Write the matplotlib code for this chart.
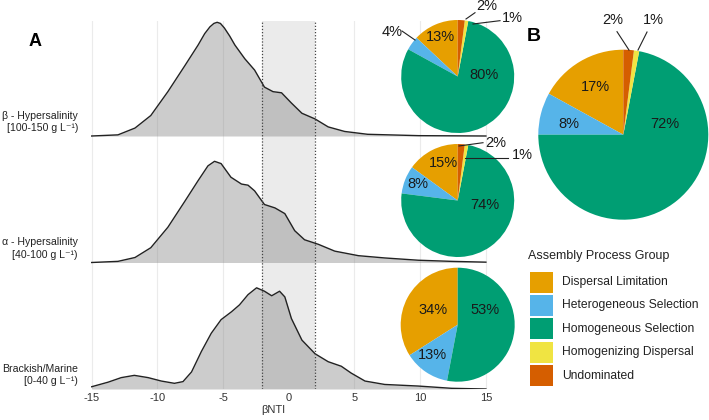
import matplotlib
matplotlib.use('Agg')
import matplotlib.pyplot as plt
from matplotlib.patches import Rectangle

plt.rcParams['font.family'] = ['Liberation Sans', 'DejaVu Sans']

# Dichtekurven (βNTI), Höhe relativ zum höchsten Gipfel
beta_x = [-15, -13, -11.7, -10.5, -9.2, -7.9, -6.9, -6.4, -6.0, -5.7, -5.45, -5.2, -4.9, -4.5,
          -4.1, -3.35, -2.6, -1.85, -1.2, -0.55, 0.2, 1.0, 2.0, 3.0, 4.25, 6.0, 9.9, 15]
beta_h = [0, 0.01, 0.07, 0.18, 0.39, 0.62, 0.80, 0.90, 0.96, 0.99, 1.0, 0.99, 0.95, 0.88,
          0.80, 0.68, 0.58, 0.43, 0.39, 0.38, 0.29, 0.20, 0.15, 0.08, 0.04, 0.015, 0.003, 0]

alpha_x = [-15, -13, -11.7, -10.5, -9.2, -7.9, -6.9, -6.15, -5.65, -5.15, -4.4, -3.6, -3.1, -2.6,
           -1.85, -1.05, -0.3, 0.45, 1.2, 2.25, 3.5, 5.3, 7.3, 9.85, 12.4, 15]
alpha_h = [0, 0.01, 0.044, 0.13, 0.31, 0.54, 0.72, 0.85, 0.89, 0.87, 0.75, 0.69, 0.68, 0.63,
           0.51, 0.48, 0.43, 0.28, 0.20, 0.16, 0.10, 0.06, 0.04, 0.02, 0.01, 0.003]

brack_x = [-15, -13.75, -12.75, -11.75, -10.7, -9.7, -8.7, -8.05, -7.4, -6.65, -5.9, -5.15, -4.35,
           -3.75, -3.1, -2.45, -1.85, -1.3, -0.7, -0.3, 0.2, 1.0, 2.0, 3.0, 4.0, 4.75, 5.8, 7.3,
           9.85, 12.4, 15]
brack_h = [0.02, 0.06, 0.10, 0.12, 0.10, 0.07, 0.05, 0.065, 0.15, 0.33, 0.49, 0.61, 0.68,
           0.74, 0.83, 0.89, 0.86, 0.82, 0.86, 0.81, 0.62, 0.43, 0.31, 0.24, 0.20, 0.14, 0.07, 0.04,
           0.026, 0.006, 0]

row_labels = ['Brackish/Marine\n[0-40 g L⁻¹)',
              'α - Hypersalinity\n[40-100 g L⁻¹)',
              'β - Hypersalinity\n[100-150 g L⁻¹)']
xticks = [-15, -10, -5, 0, 5, 10, 15]

# Kortdiagram-data (procent)
groups = ['Dispersal Limitation', 'Heterogeneous Selection', 'Homogeneous Selection',
          'Homogenizing Dispersal', 'Undominated']
colors = ['#E69F00', '#56B4E9', '#009E73', '#F0E442', '#D55E00']
beta_pct = [13, 4, 80, 1, 2]
alpha_pct = [15, 8, 74, 1, 2]
brack_pct = [34, 13, 53, 0, 0]
overall_pct = [17, 8, 72, 1, 2]

W, H = 709, 420
fig = plt.figure(figsize=(W / 100, H / 100), dpi=100)


def fbox(x0, y0, x1, y1):
    # pixel box (top-left origin) -> figure fraction
    return [x0 / W, 1 - y1 / H, (x1 - x0) / W, (y1 - y0) / H]


# ---- A: ridgeline ----
ax = fig.add_axes(fbox(91, 21, 505.6, 389))
ax.set_xlim(-15.05, 16.5)
ax.set_ylim(0, 368)
step = 126.5
scale = 113.7
ax.axvspan(-2, 2, color='#ebebeb', lw=0, zorder=0)
for t in xticks:
    ax.axvline(t, color='#ebebeb', lw=0.8, zorder=0.5)
curves = [(brack_x, brack_h), (alpha_x, alpha_h), (beta_x, beta_h)]
for i, (xs, hs) in enumerate(curves):
    off = i * step
    top = [off + h * scale for h in hs]
    ax.fill_between(xs, off, top, color='#808080', alpha=0.4, lw=0, zorder=1)
    ax.plot(xs, top, color='#222222', lw=1.0, zorder=3, solid_joinstyle='round')
    fig.text(78 / W, 1 - (389 - off - 14) / H, row_labels[i], ha='right', va='center',
             fontsize=7.6, linespacing=1.3, color='#222222')
for v in (-2, 2):
    ax.axvline(v, color='#444444', ls=(0, (1, 1.5)), lw=0.9, zorder=4)
ax.set_xticks(xticks)
ax.set_xticklabels([str(t) for t in xticks], fontsize=8, color='#333333')
ax.tick_params(length=0, pad=3)
ax.set_yticks([])
for s in ax.spines.values():
    s.set_visible(False)
fig.text(273 / W, 1 - 410 / H, 'βNTI', ha='center', va='center', fontsize=8, color='#333333')

fig.text(35 / W, 1 - 41 / H, 'A', fontsize=13, fontweight='bold', ha='center', va='center')
fig.text(533.5 / W, 1 - 36.5 / H, 'B', fontsize=14, fontweight='bold', ha='center', va='center')


# ---- pies ----
def draw_pie(cx, cy, r, pct, inside, outside):
    pax = fig.add_axes(fbox(cx - r, cy - r, cx + r, cy + r))
    pax.pie(pct, colors=colors, startangle=90, counterclock=True,
            wedgeprops=dict(linewidth=0))
    pax.set_xlim(-1, 1)
    pax.set_ylim(-1, 1)
    pax.set_aspect('equal')
    pax.axis('off')
    for k, (dx, dy) in inside.items():
        pax.text(dx, dy, f'{pct[k]}%', ha='center', va='center', fontsize=10.5,
                 color='#1a1a1a', clip_on=False)
    for k, (tx, ty, lx0, ly0, lx1, ly1) in outside.items():
        pax.text(tx, ty, f'{pct[k]}%', ha='center', va='center', fontsize=10.5,
                 color='#1a1a1a', clip_on=False)
        pax.plot([lx0, lx1], [ly0, ly1], color='#222222', lw=0.8, clip_on=False)


draw_pie(457.7, 76.5, 56.5, beta_pct,
         {0: (-0.31, 0.70), 2: (0.47, 0.03)},
         {1: (-1.163, 0.793, -0.986, 0.805, -0.756, 0.646),
          4: (0.51, 1.248, 0.147, 1.018, 0.306, 1.129),
          3: (0.961, 1.035, 0.271, 0.929, 0.749, 0.988)})
draw_pie(457.7, 200.5, 56.5, alpha_pct,
         {0: (-0.26, 0.66), 1: (-0.70, 0.29), 2: (0.48, -0.08)},
         {4: (0.678, 1.018, 0.023, 0.965, 0.448, 1.023),
          3: (1.138, 0.805, 0.129, 0.752, 0.890, 0.752)})
draw_pie(457.7, 324.7, 57, brack_pct,
         {0: (-0.44, 0.26), 2: (0.48, 0.26), 1: (-0.44, -0.54)},
         {})
draw_pie(623.3, 134.7, 85, overall_pct,
         {0: (-0.33, 0.56), 1: (-0.64, 0.13), 2: (0.49, 0.13)},
         {4: (-0.127, 1.349, -0.074, 1.212, 0.067, 0.996),
          3: (0.355, 1.349, 0.279, 1.208, 0.173, 0.996)})

# ---- legend ----
fig.text(528 / W, 1 - 256 / H, 'Assembly Process Group', fontsize=9, ha='left', va='center',
         color='#222222')
for i, (g, c) in enumerate(zip(groups, colors)):
    yc = 282 + i * 23.4
    fig.add_artist(Rectangle((530 / W, 1 - (yc + 10.5) / H), 23 / W, 21 / H,
                             transform=fig.transFigure, facecolor=c, edgecolor='none'))
    fig.text(562 / W, 1 - yc / H, g, fontsize=8.7, ha='left', va='center', color='#222222')

fig.savefig('out.png', dpi=100)
